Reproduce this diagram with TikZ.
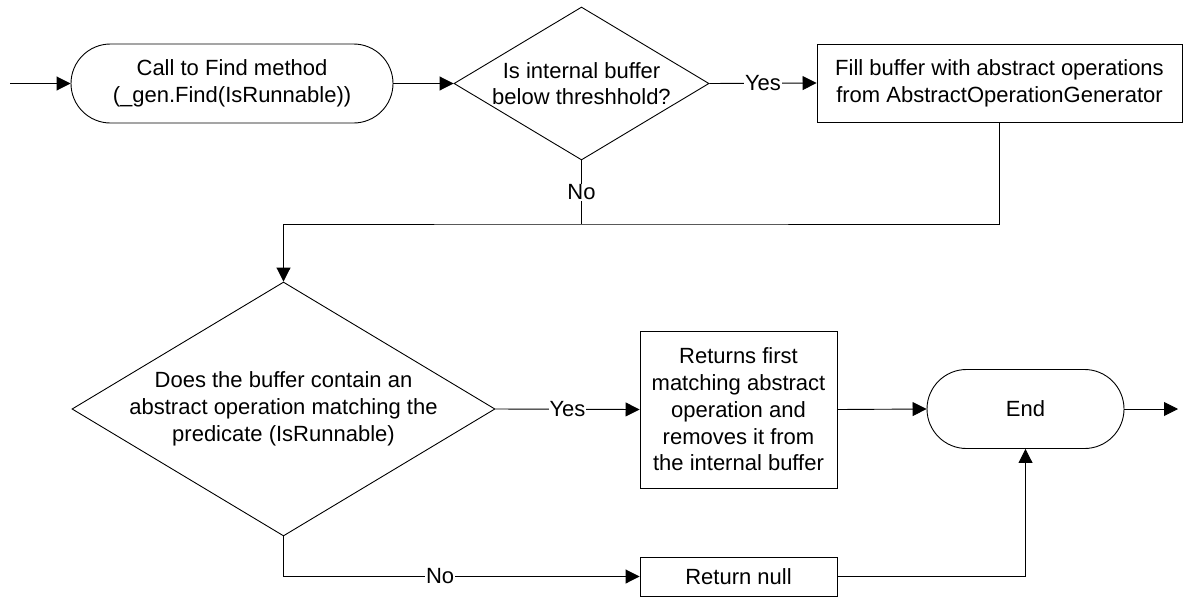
\documentclass[tikz,border=0pt]{standalone}
\usepackage{fontspec}
\setmainfont{Liberation Sans}
\usetikzlibrary{shapes.geometric,arrows.meta}
\begin{document}
\begin{tikzpicture}[x=1pt,y=-1pt,
  every node/.style={font=\fontsize{22}{26.7}\selectfont},
  base/.style={draw=black,line width=0.9pt,fill=white,inner sep=0pt,align=center},
  term/.style={base,rectangle,rounded corners=39.5pt,minimum height=79pt},
  proc/.style={base,rectangle},
  dec/.style={base,diamond},
  lbl/.style={fill=white,inner sep=1pt},
  conn/.style={line width=0.9pt,-{Triangle[length=14pt,width=14pt]}},
  plain/.style={line width=0.9pt}]
\useasboundingbox (0,0) rectangle (1183,597);
\node[term,minimum width=322pt] (start) at (232,83.5) {Call to Find method\\(\_gen.Find(IsRunnable))};
\node[dec,minimum width=255pt,minimum height=153pt,label={[align=center]center:Is internal buffer\\below threshhold?}] (d1) at (581.5,83.5) {};
\node[proc,minimum width=365pt,minimum height=78pt] (fill) at (999.5,83) {Fill buffer with abstract operations\\from AbstractOperationGenerator};
\node[dec,minimum width=423pt,minimum height=254pt,label={[align=center]center:Does the buffer contain an\\abstract operation matching the\\predicate (IsRunnable)}] (d2) at (283.5,409) {};
\node[proc,minimum width=197pt,minimum height=157pt] (ret) at (738.5,409.5) {Returns first\\matching abstract\\operation and\\removes it from\\the internal buffer};
\node[proc,minimum width=197pt,minimum height=39pt] (null) at (738.5,576.5) {Return null};
\node[term,minimum width=197pt] (end) at (1025.5,409) {End};
\coordinate (in) at (10,83.5);
\coordinate (out) at (1178,409);
\coordinate (join) at (581.5,224);

\draw[conn] (in) -- (start.west);
\draw[conn] (start.east) -- (d1.west);
\draw[conn] (d1.east) -- node[lbl]{Yes} (fill.west);
\draw[plain] (d1.south) -- node[lbl]{No} (join);
\draw[conn] (fill.south) |- (join) -| (d2.north);
\draw[conn] (d2.east) -- node[lbl]{Yes} (ret.west);
\draw[conn] (ret.east) -- (end.west);
\draw[conn] (end.east) -- (out);
\draw[conn] (d2.south) |- (null.west) node[lbl,pos=0.72]{No};
\draw[conn] (null.east) -| (end.south);
\end{tikzpicture}
\end{document}
